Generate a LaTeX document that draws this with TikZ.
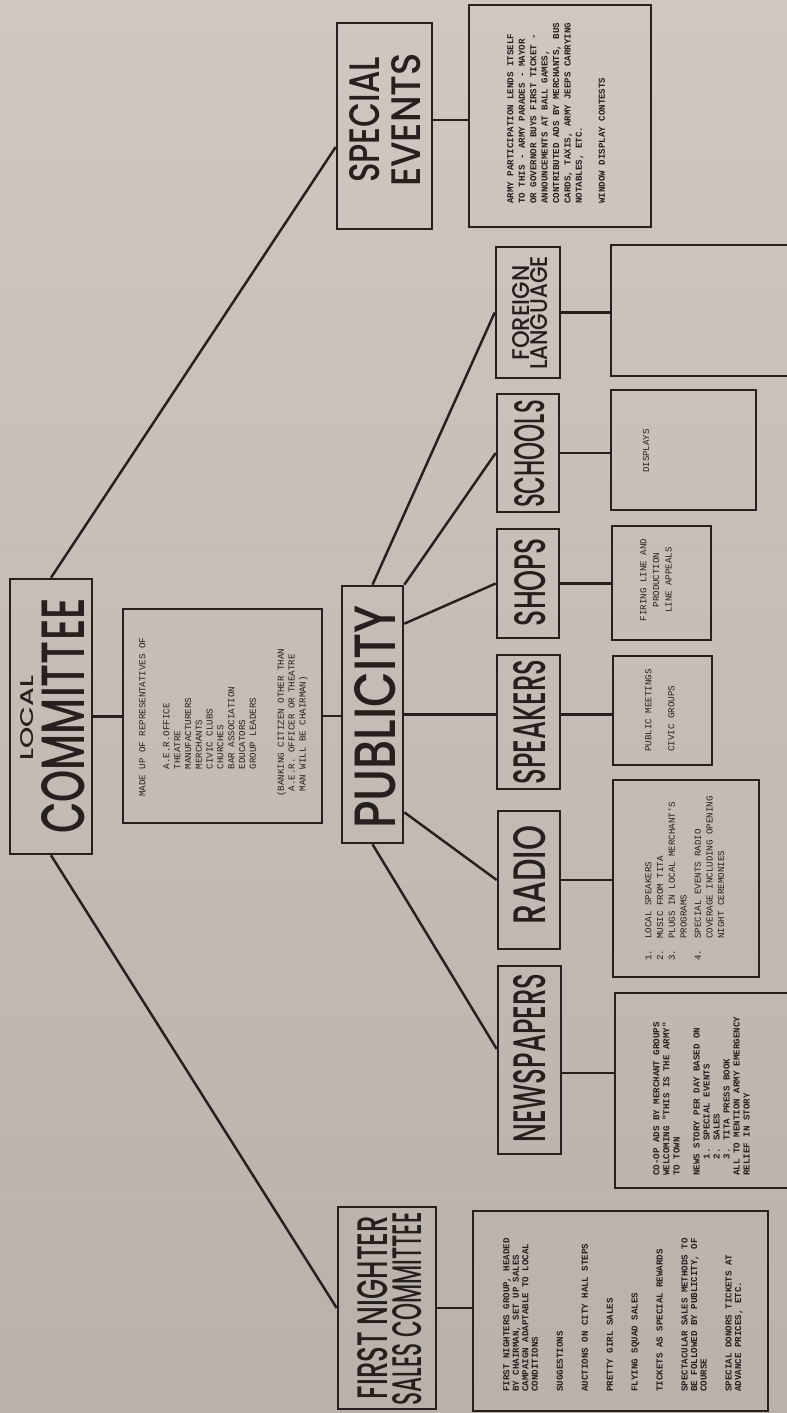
\documentclass[tikz,border=0pt]{standalone}
\usepackage{fontspec}
\usepackage{graphicx}
\newfontfamily\handfont{Poppins Medium}
\newfontfamily\typefont{Liberation Mono}
\definecolor{paperhi}{RGB}{206,200,193}
\definecolor{paperlo}{RGB}{186,178,170}
\definecolor{ink}{RGB}{38,32,30}
\newcommand{\bigword}[3]{\resizebox{#1cm}{#2cm}{\handfont #3}}
\tikzset{
	box/.style={shape=rectangle, draw=ink, line width=1.5pt, inner sep=0pt},
	wire/.style={draw=ink, line width=1.4pt},
	word/.style={rotate=90, inner sep=0pt, text=ink},
	note/.style={rotate=90, anchor=north west, inner sep=0pt, align=left, text=ink, font=\typefont\fontsize{5.2}{#1}\selectfont},
	note/.default=6.2,
	heavynote/.style={note=#1, font=\typefont\bfseries\fontsize{5.2}{#1}\selectfont},
}
\begin{document}
\begin{tikzpicture}[x=0.02cm, y=-0.02cm]
	\useasboundingbox (0,0) rectangle (787,1413);
	\clip (0,0) rectangle (787,1413);
	\shade[top color=paperhi, bottom color=paperlo] (0,0) rectangle (787,1413);
	% Paths, nodes and wires:
	\node[box, minimum width=1.64cm, minimum height=5.50cm] (lc) at (51,716.5){};
	\node[word] (lcw1) at (27,718){\bigword{1.70}{0.26}{LOCAL}};
	\node[word] (lcw2) at (63.5,716){\bigword{4.72}{0.86}{COMMITTEE}};
	\node[box, minimum width=3.98cm, minimum height=4.28cm] (lcnote) at (222.5,716){};
	\node[note=6.15] (lctext) at (139,797){MADE UP OF REPRESENTATIVES OF\\[7.5pt]\hspace*{3em}A.E.R.OFFICE\\\hspace*{3em}THEATRE\\\hspace*{3em}MANUFACTURERS\\\hspace*{3em}MERCHANTS\\\hspace*{3em}CIVIC CLUBS\\\hspace*{3em}CHURCHES\\\hspace*{3em}BAR ASSOCIATION\\\hspace*{3em}EDUCATORS\\\hspace*{3em}GROUP LEADERS\\[9.8pt](BANKING CITIZEN OTHER THAN\\\hspace*{0.6em}A.E.R. OFFICER OR THEATRE\\\hspace*{0.6em}MAN WILL BE CHAIRMAN)};
	\node[box, minimum width=1.22cm, minimum height=5.14cm] (pub) at (372.5,714.5){};
	\node[word] (pubw) at (375,717){\bigword{4.48}{0.82}{PUBLICITY}};
	\node[box, minimum width=1.90cm, minimum height=4.12cm] (se) at (384.5,126){};
	\node[word] (sew1) at (365,120){\bigword{2.52}{0.60}{SPECIAL}};
	\node[word] (sew2) at (406,120){\bigword{2.68}{0.58}{EVENTS}};
	\node[box, minimum width=3.64cm, minimum height=4.44cm] (senote) at (560,116){};
	\node[heavynote=6.5] (setext) at (507,204){ARMY PARTICIPATION LENDS ITSELF\\TO THIS - ARMY PARADES - MAYOR\\OR GOVERNOR BUYS FIRST TICKET -\\ANNOUNCEMENTS AT BALL GAMES,\\CONTRIBUTED ADS BY MERCHANTS, BUS\\CARDS, TAXIS, ARMY JEEPS CARRYING\\NOTABLES, ETC.\\[6.5pt]WINDOW DISPLAY CONTESTS};
	\node[box, minimum width=1.96cm, minimum height=4.04cm] (fn) at (387,1308){};
	\node[word] (fnw1) at (372.5,1307.5){\bigword{3.66}{0.60}{FIRST NIGHTER}};
	\node[word] (fnw2) at (407,1309){\bigword{3.86}{0.58}{SALES COMMITTEE}};
	\node[box, minimum width=5.90cm, minimum height=4.00cm] (fnnote) at (620.5,1311){};
	\node[heavynote=5.4] (fntext) at (503,1392){FIRST NIGHTERS GROUP, HEADED\\BY CHAIRMAN, SET UP SALES\\CAMPAIGN ADAPTABLE TO LOCAL\\CONDITIONS\\[8.8pt]SUGGESTIONS\\[8.8pt]AUCTIONS ON CITY HALL STEPS\\[8.8pt]PRETTY GIRL SALES\\[8.8pt]FLYING SQUAD SALES\\[8.8pt]TICKETS AS SPECIAL REWARDS\\[8.8pt]SPECTACULAR SALES METHODS TO\\BE FOLLOWED BY PUBLICITY, OF\\COURSE\\[8.8pt]SPECIAL DONORS TICKETS AT\\ADVANCE PRICES, ETC.};
	\node[box, minimum width=1.28cm, minimum height=2.62cm] (fl) at (528,312.5){};
	\node[word] (flw1) at (521,313){\bigword{1.90}{0.34}{FOREIGN}};
	\node[word] (flw2) at (539.5,313){\bigword{2.28}{0.34}{LANGUAGE}};
	\node[box, minimum width=3.78cm, minimum height=2.62cm] (flnote) at (705.5,310.5){};
	\node[box, minimum width=1.24cm, minimum height=2.36cm] (sch) at (528,453){};
	\node[word] (schw) at (530,454){\bigword{2.16}{0.60}{SCHOOLS}};
	\node[box, minimum width=2.90cm, minimum height=2.40cm] (schnote) at (683.5,450){};
	\node[note, anchor=center] (schtext) at (646,451){DISPLAYS};
	\node[box, minimum width=1.24cm, minimum height=2.18cm] (shp) at (528,583.5){};
	\node[word] (shpw) at (530,582){\bigword{1.76}{0.62}{SHOPS}};
	\node[box, minimum width=1.98cm, minimum height=2.28cm] (shpnote) at (661.5,583){};
	\node[note=7.2, anchor=center, align=center] (shptext) at (656,580){FIRING LINE AND\\PRODUCTION\\LINE APPEALS};
	\node[box, minimum width=1.26cm, minimum height=2.68cm] (spk) at (528.5,722){};
	\node[word] (spkw) at (529.5,722){\bigword{2.50}{0.64}{SPEAKERS}};
	\node[box, minimum width=1.98cm, minimum height=2.18cm] (spknote) at (662.5,710.5){};
	\node[note=13] (spktext) at (645,752){PUBLIC MEETINGS\\CIVIC GROUPS};
	\node[box, minimum width=1.24cm, minimum height=2.76cm] (rad) at (529,880){};
	\node[word] (radw) at (529.5,875){\bigword{1.96}{0.64}{RADIO}};
	\node[box, minimum width=2.92cm, minimum height=3.94cm] (radnote) at (686,878.5){};
	\node[note=6.65] (radtext) at (645,961){1.\hspace*{1.2em}LOCAL SPEAKERS\\2.\hspace*{1.2em}MUSIC FROM TITA\\3.\hspace*{1.2em}PLUGS IN LOCAL MERCHANT'S\\\hspace*{2.4em}PROGRAMS\\[1.5pt]4.\hspace*{1.2em}SPECIAL EVENTS RADIO\\\hspace*{2.4em}COVERAGE INCLUDING OPENING\\\hspace*{2.4em}NIGHT CEREMONIES};
	\node[box, minimum width=1.26cm, minimum height=3.76cm] (nws) at (529.5,1060){};
	\node[word] (nwsw) at (529.5,1058){\bigword{3.38}{0.64}{NEWSPAPERS}};
	\node[box, minimum width=3.54cm, minimum height=3.90cm] (nwsnote) at (703.5,1090.5){};
	\node[heavynote=5.7] (nwstext) at (653,1176){CO-OP ADS BY MERCHANT GROUPS\\WELCOMING "THIS IS THE ARMY"\\TO TOWN\\[5.7pt]NEWS STORY PER DAY BASED ON\\\hspace*{1.8em}1. SPECIAL EVENTS\\\hspace*{1.8em}2. SALES\\\hspace*{1.8em}3. TITA PRESS BOOK\\ALL TO MENTION ARMY EMERGENCY\\RELIEF IN STORY};
	% wires
	\coordinate (shpout) at ([yshift=-0.78cm]pub.north east);
	\coordinate (radout) at ([yshift=0.64cm]pub.south east);
	\coordinate (nwsout) at ([yshift=-0.26cm]nws.east);
	\coordinate (seout) at ([yshift=0.12cm]se.east);
	\draw[wire] (lc.north) -- ([yshift=-0.42cm]se.west);
	\draw[wire] (lc.south) -- (fn.west);
	\draw[wire] (lc.east) -- (lc.east -| lcnote.west);
	\draw[wire] (lcnote.east) -- (lcnote.east -| pub.west);
	\draw[wire] (seout) -- (seout -| senote.west);
	\draw[wire] (fn.east) -- (fn.east -| fnnote.west);
	\draw[wire] (pub.north) -- (fl.west);
	\draw[wire] (pub.north east) -- (sch.west);
	\draw[wire] (shpout) -- (shp.west);
	\draw[wire] (pub.east) -- (pub.east -| spk.west);
	\draw[wire] (spk.east |- pub.east) -- (pub.east -| spknote.west);
	\draw[wire] (radout) -- (rad.west);
	\draw[wire] (pub.south) -- ([yshift=0.22cm]nws.west);
	\draw[wire] (fl.east) -- (fl.east -| flnote.west);
	\draw[wire] (sch.east) -- (sch.east -| schnote.west);
	\draw[wire] (shp.east) -- (shp.east -| shpnote.west);
	\draw[wire] (rad.east) -- (rad.east -| radnote.west);
	\draw[wire] (nwsout) -- (nwsout -| nwsnote.west);
\end{tikzpicture}
\end{document}
